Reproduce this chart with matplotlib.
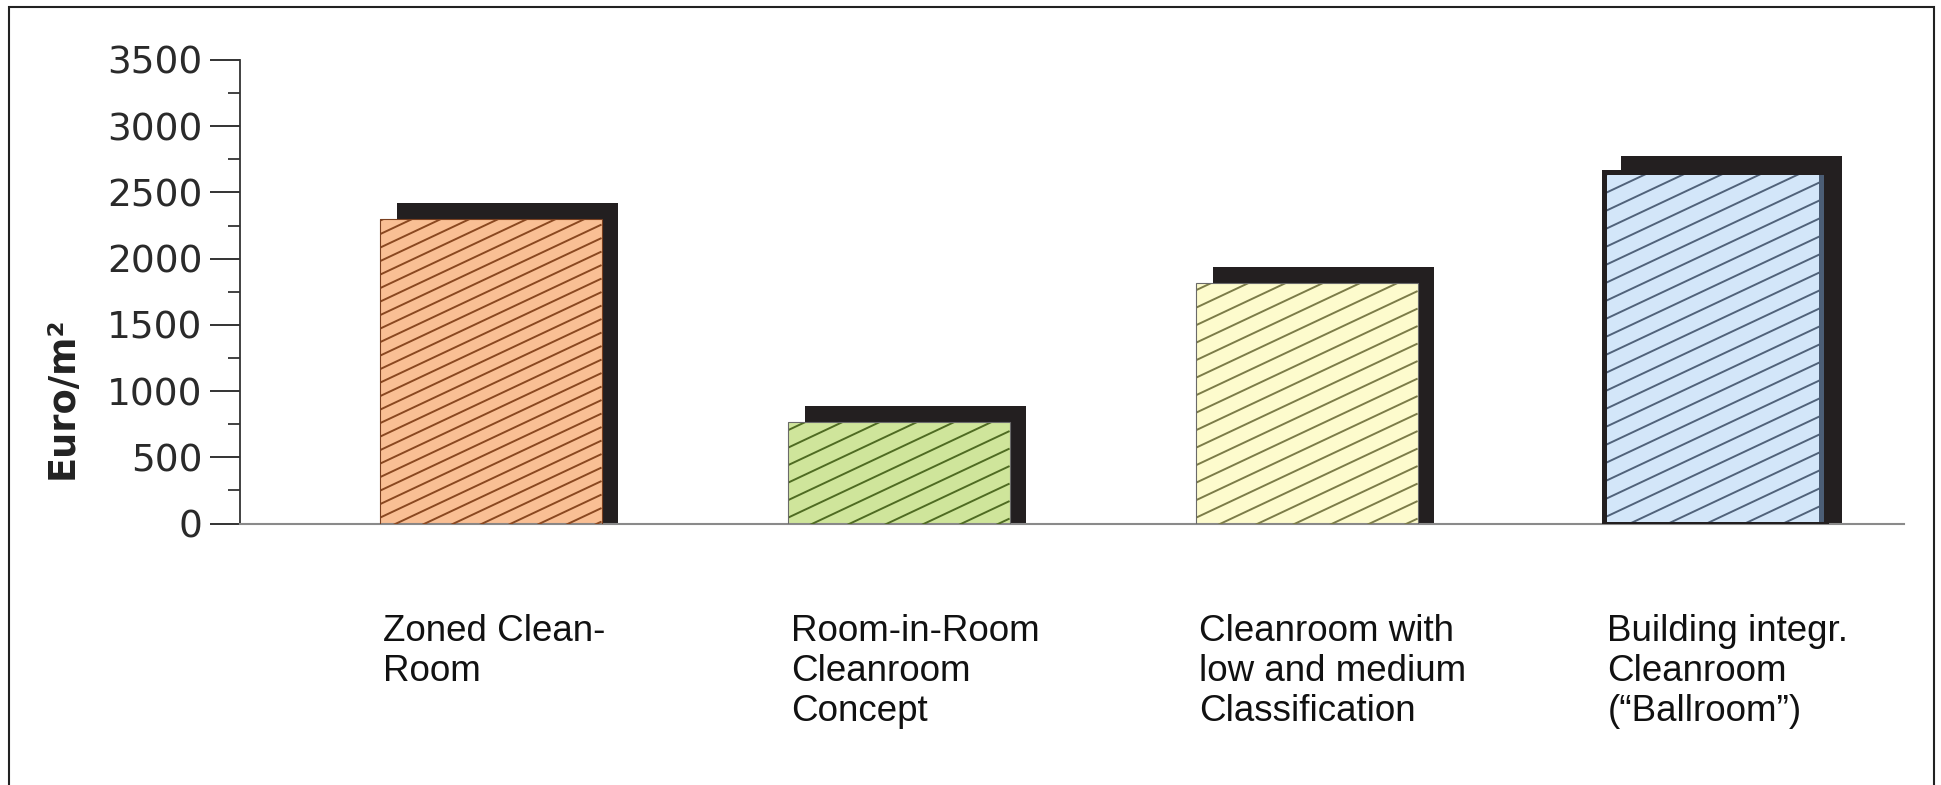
import numpy as np
import matplotlib
matplotlib.use("Agg")
import matplotlib.pyplot as plt
from matplotlib.patches import Rectangle
from matplotlib.collections import LineCollection
from matplotlib.transforms import ScaledTranslation, blended_transform_factory
from matplotlib.ticker import MultipleLocator

# ---- data ----
categories = [
    "Zoned Clean-\nRoom",
    "Room-in-Room\nCleanroom\nConcept",
    "Cleanroom with\nlow and medium\nClassification",
    "Building integr.\nCleanroom\n(\u201cBallroom\u201d)",
]
costs = [2300, 765, 1815, 2655]
y_ticks = [0, 500, 1000, 1500, 2000, 2500, 3000, 3500]
y_label = "Euro/m\u00b2"

face_colors = ["#f9bf94", "#cfe59b", "#fdfbcd", "#d3e6f9"]
hatch_colors = ["#8a4820", "#4f6b22", "#7c7c48", "#50627a"]
hatch_spacing = [13.5, 17.5, 17.5, 18.0]
edge_colors = ["#7a4020", "#6a6a6a", "#6a6a6a", "#231f20"]
edge_widths = [0.8, 0.8, 0.8, 3.6]
shadow_color = "#231f20"

W, H = 1941, 785
fig = plt.figure(figsize=(W / 100, H / 100), dpi=100)
ax = fig.add_axes([240 / W, (H - 523.5) / H, (1904 - 240) / W, (523.5 - 60) / H])

x = np.arange(len(costs))
width = 0.542
ax.set_xlim(-0.615, 3.463)
ax.set_ylim(0, 3500)

# conversion px <-> data
o = ax.transData.transform((0, 0))
px_x = ax.transData.transform((1, 0))[0] - o[0]
px_y = ax.transData.transform((0, 1))[1] - o[1]

# shadows
sdx = 16.5 / px_x
sdy = 16.0 / px_y
ax.bar(x + sdx, np.array(costs) + sdy, width, color=shadow_color, zorder=1, linewidth=0)

# front bars
bars = ax.bar(x, costs, width, color=face_colors, linewidth=0, zorder=2)

# custom hatch lines (shallow diagonal)
tan_a = 0.47
inv = ax.transData.inverted()
for b, hc, sp_v in zip(bars, hatch_colors, hatch_spacing):
    x0, y0 = b.get_x(), b.get_y()
    x1, y1 = x0 + b.get_width(), y0 + b.get_height()
    X0, Y0 = ax.transData.transform((x0, y0))
    X1, Y1 = ax.transData.transform((x1, y1))
    rise = (X1 - X0) * tan_a
    kmin = -int(np.ceil(rise / sp_v)) - 1
    kmax = int(np.ceil((Y1 - Y0) / sp_v)) + 1
    segs = []
    for k in range(kmin, kmax + 1):
        ya = Y0 + 6 + k * sp_v
        yb = ya + rise
        segs.append(inv.transform([(X0, ya), (X1, yb)]))
    lc = LineCollection(segs, colors=hc, linewidths=1.4, zorder=3)
    ax.add_collection(lc)
    lc.set_clip_path(b)

# slate strip on the last bar's right side
ax.plot([x[3] + width / 2] * 2, [0, costs[3]], color="#4b5d75", lw=3.6,
        solid_capstyle="butt", zorder=4,
        transform=ax.transData + ScaledTranslation(-5 / 100, 0, fig.dpi_scale_trans))

# outlines
for xi, c, ec, lw in zip(x, costs, edge_colors, edge_widths):
    ax.bar(xi, c, width, fill=False, edgecolor=ec, linewidth=lw, zorder=5)

# axes styling
for s in ["top", "right"]:
    ax.spines[s].set_visible(False)
ax.spines["left"].set_color("#333333")
ax.spines["left"].set_linewidth(1.3)
ax.spines["bottom"].set_color("#8a8a8a")
ax.spines["bottom"].set_linewidth(1.5)
ax.set_xticks([])
ax.set_yticks(y_ticks)
ax.yaxis.set_minor_locator(MultipleLocator(250))
ax.tick_params(axis="y", which="major", length=21.6, width=1.4, color="#333333",
               pad=5.5, labelsize=27, labelcolor="#2a2a2a")
ax.tick_params(axis="y", which="minor", length=8.6, width=1.3, color="#333333")
for t in ax.get_yticklabels():
    t.set_fontfamily("DejaVu Sans")

fig.text(62 / W, (H - 398) / H, y_label, rotation=90, ha="center", va="center",
         fontsize=26.5, fontweight="bold", family="DejaVu Sans", color="#222222")

# category labels
tr = blended_transform_factory(ax.transData, fig.transFigure)
for xi, lab in zip(x, categories):
    ax.text(xi - width / 2 + 3 / px_x, (H - 614) / H, lab, transform=tr,
            ha="left", va="top", fontsize=26.5, family="Liberation Sans",
            color="#111111", linespacing=1.19)

# outer frame
fig.add_artist(Rectangle((9.3 / W, -0.05), (1934 - 9.3) / W, (H - 6.7) / H + 0.05,
                         transform=fig.transFigure, fill=False,
                         edgecolor="#222222", linewidth=1.5))

fig.savefig("out.png", dpi=100)
